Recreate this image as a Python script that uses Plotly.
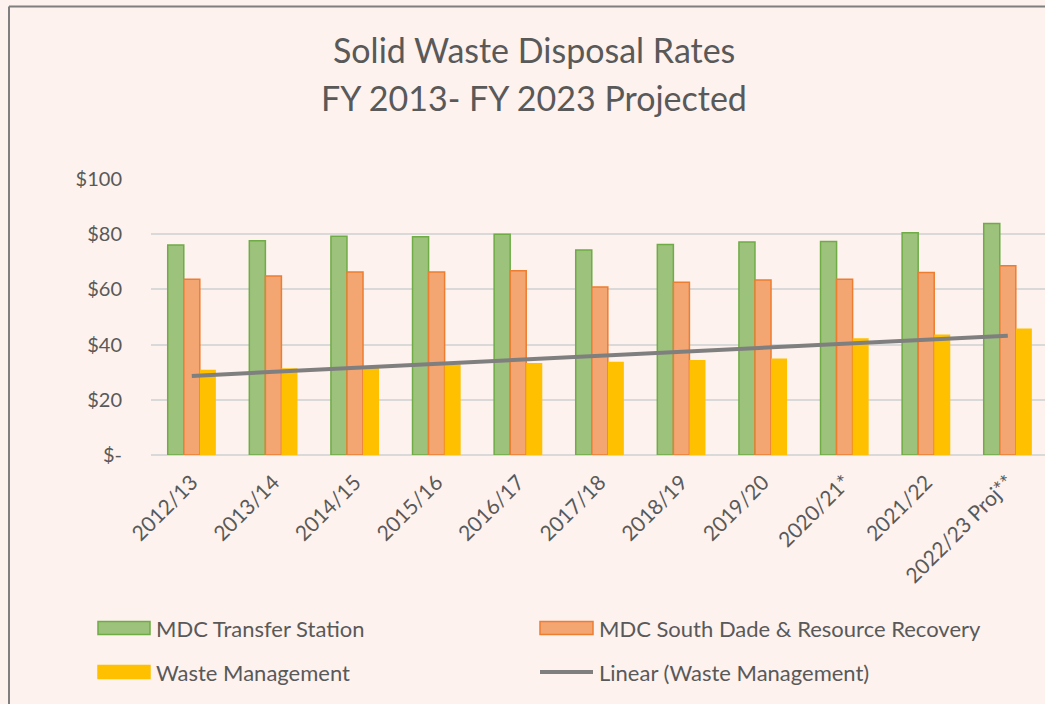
import numpy as np
import plotly.graph_objects as go

categories = ["2012/13", "2013/14", "2014/15", "2015/16", "2016/17", "2017/18",
              "2018/19", "2019/20", "2020/21*", "2021/22", "2022/23 Proj**"]
transfer_station = [76.1, 77.6, 79.3, 79.1, 80.0, 74.3, 76.3, 77.2, 77.4, 80.5, 83.9]
south_dade = [63.7, 64.9, 66.3, 66.3, 66.8, 60.9, 62.6, 63.4, 63.7, 66.1, 68.6]
waste_mgmt = [30.9, 31.4, 31.9, 32.9, 33.3, 33.8, 34.4, 35.0, 42.3, 43.7, 45.8]
y_ticks = [0, 20, 40, 60, 80, 100]
y_tick_text = ["$-", "$20", "$40", "$60", "$80", "$100"]

# linear trend of Waste Management
idx = np.arange(len(waste_mgmt))
slope, intercept = np.polyfit(idx, waste_mgmt, 1)
trend = slope * idx + intercept

FONT = "Lato"
TXT = "#595959"
BG = "#FDF2EE"

W, H = 1045, 704
L, R, T, B = 151, 0, 179, 249
PW = W - L - R
PH = H - T - B


def px(x):
    return (x - L) / PW


def py(y):
    return (H - B - y) / PH


fig = go.Figure()
fig.add_trace(go.Bar(x=categories, y=transfer_station, name="MDC Transfer Station",
                     marker=dict(color="#9DC27C", line=dict(color="#6FAC46", width=1.5))))
fig.add_trace(go.Bar(x=categories, y=south_dade, name="MDC South Dade & Resource Recovery",
                     marker=dict(color="#F3A572", line=dict(color="#ED7D31", width=1.5))))
fig.add_trace(go.Bar(x=categories, y=waste_mgmt, name="Waste Management",
                     marker=dict(color="#FFC000", line=dict(width=0))))
fig.add_trace(go.Scatter(x=categories, y=trend, mode="lines", name="Linear (Waste Management)",
                         line=dict(color="#7F7F7F", width=4)))

shapes = []
annotations = []

# frame (left and top edges; right and bottom lie outside the picture)
shapes.append(dict(type="line", xref="paper", yref="paper",
                   x0=px(9), x1=px(9), y0=py(704), y1=py(6.5),
                   line=dict(color="#7F7F7F", width=2), layer="below"))
shapes.append(dict(type="line", xref="paper", yref="paper",
                   x0=px(9), x1=px(1045), y0=py(6.5), y1=py(6.5),
                   line=dict(color="#7F7F7F", width=2), layer="below"))

# title
annotations.append(dict(text="Solid Waste Disposal Rates", xref="paper", yref="paper",
                        x=px(534), y=py(50), xanchor="center", yanchor="middle", showarrow=False,
                        font=dict(family=FONT, size=34, color=TXT)))
annotations.append(dict(text="FY 2013- FY 2023 Projected", xref="paper", yref="paper",
                        x=px(534), y=py(97), xanchor="center", yanchor="middle", showarrow=False,
                        font=dict(family=FONT, size=34, color=TXT)))

# legend (manual)
legend_items = [
    ("MDC Transfer Station", "rect", "#9DC27C", "#6FAC46", 98, 150, 628),
    ("MDC South Dade & Resource Recovery", "rect", "#F3A572", "#ED7D31", 540, 593, 628),
    ("Waste Management", "rect", "#FFC000", "#FFC000", 98, 150, 672),
    ("Linear (Waste Management)", "line", "#7F7F7F", "#7F7F7F", 540, 593, 672),
]
for name, kind, fill, edge, x0, x1, yc in legend_items:
    if kind == "rect":
        shapes.append(dict(type="rect", xref="paper", yref="paper",
                           x0=px(x0), x1=px(x1), y0=py(yc + 6.5), y1=py(yc - 6.5),
                           fillcolor=fill, line=dict(color=edge, width=1.5)))
    else:
        shapes.append(dict(type="line", xref="paper", yref="paper",
                           x0=px(x0), x1=px(x1), y0=py(yc), y1=py(yc),
                           line=dict(color=fill, width=4)))
    annotations.append(dict(text=name, xref="paper", yref="paper", x=px(x1 + 4), y=py(yc),
                            xanchor="left", yanchor="middle", showarrow=False,
                            font=dict(family=FONT, size=22, color=TXT)))

fig.update_layout(
    width=W, height=H,
    margin=dict(l=L, r=R, t=T, b=B, pad=0),
    paper_bgcolor=BG, plot_bgcolor=BG,
    barmode="group", bargap=0.41, bargroupgap=0,
    showlegend=False,
    shapes=shapes, annotations=annotations,
    font=dict(family=FONT, color=TXT),
    xaxis=dict(type="category", range=[-0.5, -0.5 + PW / 81.6], tickangle=-45,
               tickfont=dict(family=FONT, size=21, color=TXT), showgrid=False,
               showline=False, ticks="", zeroline=False, ticklabelstandoff=10),
    yaxis=dict(range=[0, 100], tickvals=y_ticks, ticktext=y_tick_text,
               tickfont=dict(family=FONT, size=20, color=TXT), showgrid=True,
               gridcolor="#D9D9D9", gridwidth=1.5, zeroline=True, zerolinecolor="#D9D9D9",
               zerolinewidth=1.5, showline=False, ticks="", ticklabelstandoff=28),
)

fig.write_html(
    "out.html",
    config={"displayModeBar": False},
    post_script="document.documentElement.style.overflow='hidden';"
                "document.documentElement.style.margin='0';"
                "document.body.style.margin='0';document.body.style.overflow='hidden';"
                "document.body.style.background='#FDF2EE';"
                "var d=document.getElementsByClassName('plotly-graph-div')[0];"
                "if(d){d.style.border='none';d.style.outline='none';}",
)
